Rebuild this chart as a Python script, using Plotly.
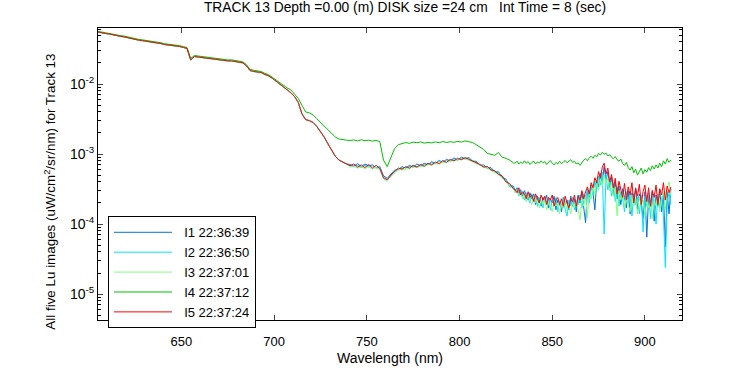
import plotly.graph_objects as go

# Wavelength grid (nm): 2-nm sampling up to 829, 1-nm sampling 830-914
wl_short = list(range(605, 740, 2))
wl_mid = list(range(741, 830, 2))
wl_long = list(range(830, 915))
wavelength = wl_short + wl_mid + wl_long

# Values in units of 1e-4 uW/cm^2/sr/nm
# 605-739 nm: I1, I2, I3, I5 coincide
lu_shared_short = [553, 536, 527, 519, 503, 487, 480, 472, 457, 443,
                   429, 423, 416, 409, 403, 390, 384, 378, 366, 361,
                   355, 349, 344, 333, 323, 221, 247, 243, 239, 235,
                   228, 224, 221, 221, 217, 214, 214, 211, 207, 201,
                   183, 156, 151, 149, 146, 137, 131, 121, 110, 98,
                   90.9, 82.7, 75.2, 66.2, 54.8, 37.5, 31.0, 30.0, 28.2, 24.8,
                   21.2, 17.5, 14.0, 11.2, 9.30, 8.19, 7.69, 7.22]
i4_short = [565, 550, 540, 532, 516, 500, 492, 484, 469, 455,
            441, 434, 427, 420, 414, 401, 394, 388, 376, 371,
            365, 359, 353, 342, 332, 232, 256, 251, 247, 243,
            236, 232, 229, 228, 225, 221, 221, 218, 214, 208,
            190, 162, 157, 154, 151, 142, 136, 125, 114, 107,
            97, 88, 82.7, 72.8, 62.2, 49.8, 39.9, 38.7, 36.2, 32.0,
            28.2, 24.8, 21.9, 19.3, 17.5, 16.4, 15.9, 15.8]

# 741-829 nm
i1_mid = [7.1, 6.7, 7.3, 6.6, 7.2, 6.8, 7.0, 6.4, 6.6, 4.9,
          4.5, 5.2, 5.9, 6.0, 6.6, 6.3, 6.9, 6.5, 7.2, 6.8,
          7.4, 7.0, 7.8, 7.3, 8.1, 7.6, 8.4, 8.0, 8.8, 8.2,
          9.0, 8.6, 8.9, 7.9, 7.9, 6.9, 7.0, 6.3, 6.4, 5.5,
          5.6, 4.6, 4.4, 3.5, 3.5]
i2_mid = [6.9, 6.6, 6.9, 6.4, 6.9, 6.5, 6.8, 6.3, 6.4, 4.4,
          4.2, 4.9, 5.8, 6.1, 6.3, 6.5, 6.6, 6.8, 6.6, 7.0,
          7.1, 7.1, 7.5, 7.3, 7.9, 7.7, 8.1, 8.1, 8.5, 8.3,
          8.7, 8.5, 8.7, 8.1, 7.6, 7.2, 6.6, 6.3, 6.1, 5.6,
          5.4, 4.5, 4.3, 3.4, 3.4]
i3_mid = [6.5, 6.7, 6.3, 6.6, 6.2, 6.6, 6.1, 6.4, 6.0, 4.5,
          4.2, 4.8, 5.4, 5.9, 6.0, 6.2, 6.2, 6.5, 6.4, 6.7,
          6.6, 7.0, 7.0, 7.3, 7.2, 7.6, 7.6, 7.9, 8.0, 8.2,
          8.2, 8.5, 8.2, 7.8, 7.3, 6.9, 6.4, 6.3, 5.8, 5.5,
          5.1, 4.6, 4.0, 3.5, 3.2]
i4_mid = [15.6, 15.9, 15.4, 16.0, 15.5, 15.8, 15.3, 15.7, 15.0, 8.2,
          6.6, 9.0, 12.0, 13.6, 14.0, 14.6, 14.2, 14.8, 14.5, 14.9,
          14.3, 14.7, 14.4, 14.9, 14.5, 15.1, 14.6, 15.0, 14.7, 15.2,
          14.8, 15.4, 15.0, 14.6, 13.6, 12.4, 11.6, 10.2, 9.9, 9.6,
          10.5, 9.0, 8.7, 8.2, 7.5]
i5_mid = [6.8, 7.2, 6.5, 7.0, 6.4, 7.1, 6.3, 6.9, 6.2, 4.6,
          4.3, 5.0, 5.6, 6.3, 6.1, 6.6, 6.3, 6.9, 6.5, 7.1,
          6.7, 7.4, 7.0, 7.7, 7.3, 8.1, 7.6, 8.4, 8.0, 8.7,
          8.3, 8.9, 8.4, 8.0, 7.5, 7.1, 6.5, 6.7, 5.9, 5.8,
          5.1, 4.9, 4.0, 3.8, 3.2]

# 830-914 nm
i1_long = [3.0, 3.3, 2.7, 3.1, 2.5, 3.0, 2.6, 2.2, 2.8, 2.3,
           2.7, 1.9, 2.5, 2.2, 1.8, 2.4, 2.1, 2.6, 1.7, 2.3,
           2.0, 2.5, 1.6, 2.2, 2.0, 1.5, 2.4, 1.9, 2.2, 1.6,
           2.5, 1.8, 2.3, 1.5, 2.6, 2.0, 2.8, 1.6, 1.05, 3.1,
           2.4, 3.6, 2.8, 1.6, 4.2, 3.4, 5.3, 4.0, 6.6, 4.3,
           5.6, 3.2, 4.7, 2.6, 4.0, 2.3, 3.5, 1.9, 3.2, 2.4,
           1.7, 3.0, 1.4, 2.8, 2.2, 3.3, 1.6, 2.7, 2.0, 1.2,
           2.9, 0.65, 2.5, 1.9, 3.0, 1.1, 2.6, 1.8, 3.1, 1.5,
           2.8, 0.47, 2.9, 1.4, 3.2]
i2_long = [2.9, 3.2, 2.5, 3.0, 2.7, 2.2, 2.8, 2.4, 2.0, 2.7,
           2.2, 2.5, 1.8, 2.4, 2.1, 1.7, 2.4, 2.0, 2.3, 1.6,
           2.2, 1.9, 2.4, 1.5, 2.1, 1.9, 2.3, 1.6, 1.3, 2.2,
           1.8, 2.4, 1.6, 2.2, 1.9, 2.6, 1.7, 2.7, 2.2, 3.2,
           2.0, 3.5, 2.6, 4.1, 3.0, 4.8, 3.6, 5.5, 0.72, 4.9,
           3.1, 4.4, 2.5, 3.8, 2.1, 3.4, 1.8, 2.9, 2.3, 1.5,
           2.9, 2.0, 2.6, 1.3, 2.7, 1.9, 2.4, 1.4, 2.6, 0.77,
           2.5, 1.8, 2.8, 1.2, 2.6, 2.0, 1.0, 2.7, 1.7, 2.4,
           1.3, 0.24, 2.1, 2.8, 1.9]
i3_long = [2.8, 3.1, 2.6, 2.8, 2.3, 2.7, 2.1, 2.6, 2.2, 1.9,
           2.5, 2.0, 2.3, 1.7, 2.2, 1.9, 2.2, 1.6, 2.1, 1.8,
           1.5, 2.1, 1.8, 2.0, 1.4, 2.0, 1.7, 2.1, 1.6, 1.9,
           1.4, 2.0, 1.7, 2.2, 1.5, 1.15, 2.3, 1.8, 2.6, 1.23,
           2.9, 2.3, 3.3, 2.7, 3.8, 3.1, 4.4, 3.5, 5.0, 3.8,
           4.6, 3.0, 4.0, 2.5, 3.4, 1.31, 3.0, 2.2, 2.7, 1.7,
           2.5, 2.0, 1.5, 2.6, 1.8, 2.3, 1.4, 2.5, 1.9, 2.2,
           1.3, 2.4, 1.7, 2.1, 1.2, 2.3, 1.8, 2.6, 1.5, 2.2,
           2.9, 1.6, 3.2, 4.0, 2.5]
i4_long = [7.4, 7.9, 7.2, 7.7, 7.3, 8.0, 7.4, 7.8, 7.1, 7.6,
           7.9, 7.2, 7.7, 7.4, 8.0, 7.5, 7.8, 7.1, 7.6, 8.1,
           7.4, 7.0, 7.6, 7.2, 7.9, 7.3, 7.7, 8.1, 7.5, 7.8,
           8.3, 7.6, 7.9, 7.2, 7.5, 6.9, 7.7, 8.2, 8.6, 8.0,
           8.9, 9.3, 8.7, 9.6, 9.1, 10.2, 9.7, 10.6, 9.9, 10.3,
           9.4, 9.8, 9.0, 8.6, 9.2, 8.3, 7.9, 8.5, 7.3, 6.9,
           7.6, 6.4, 5.9, 6.6, 5.4, 6.1, 5.0, 5.7, 6.3, 5.2,
           6.0, 5.5, 6.4, 5.8, 6.8, 6.1, 7.0, 6.3, 7.4, 6.6,
           8.0, 7.2, 8.6, 7.6, 8.2]
i5_long = [3.1, 2.8, 3.3, 2.6, 2.9, 2.7, 2.3, 2.9, 2.4, 2.6,
           2.1, 2.7, 2.3, 2.0, 2.6, 2.2, 2.5, 1.9, 2.4, 2.2,
           2.6, 1.8, 2.2, 2.4, 1.9, 2.3, 1.8, 2.5, 2.0, 1.7,
           2.3, 2.1, 2.6, 1.8, 2.5, 2.2, 3.0, 2.3, 2.9, 3.4,
           2.7, 3.9, 3.3, 4.6, 3.9, 5.6, 4.5, 6.5, 7.4, 5.2,
           6.3, 4.0, 5.1, 3.3, 4.5, 2.7, 4.1, 3.0, 2.4, 3.8,
           2.2, 3.4, 2.6, 3.9, 2.0, 3.2, 2.5, 3.7, 1.9, 2.9,
           3.6, 2.1, 3.3, 1.8, 3.0, 2.4, 3.6, 1.9, 3.2, 2.6,
           3.9, 2.2, 3.5, 2.8, 3.4]

UNIT = 1e-4
series_names = ["I1 22:36:39", "I2 22:36:50", "I3 22:37:01", "I4 22:37:12", "I5 22:37:24"]
series_values = [
    lu_shared_short + i1_mid + i1_long,
    lu_shared_short + i2_mid + i2_long,
    lu_shared_short + i3_mid + i3_long,
    i4_short + i4_mid + i4_long,
    lu_shared_short + i5_mid + i5_long,
]
series_colors = ["#0070E0", "#00E5FF", "#80FF80", "#00C000", "#FF0000"]

ytick_vals = [1e-5, 1e-4, 1e-3, 1e-2]
ytick_text = ["10<sup>-5</sup>", "10<sup>-4</sup>", "10<sup>-3</sup>", "10<sup>-2</sup>"]
xtick_vals = [650, 700, 750, 800, 850, 900]

fig = go.Figure()
for name, vals, col in zip(series_names, series_values, series_colors):
    fig.add_trace(go.Scatter(x=wavelength, y=[v * UNIT for v in vals], mode="lines",
                             name="\u00a0\u00a0" + name, line=dict(color=col, width=1)))

minor_vals = [k * 10.0 ** e for e in range(-6, -1) for k in range(2, 10)]
FONT = "Liberation Sans"
fig.update_layout(
    width=750, height=375,
    margin=dict(l=98, r=68, t=28, b=44),
    paper_bgcolor="white", plot_bgcolor="white",
    font=dict(family=FONT, size=13, color="black"),
    title=dict(text="TRACK 13 Depth =0.00 (m) DISK size =24 cm   Int Time = 8 (sec)",
               x=0.54, xanchor="center", y=0.982, yanchor="middle",
               font=dict(family=FONT, size=13.8)),
    showlegend=True,
    legend=dict(x=0.017, y=0.355, xanchor="left", yanchor="top",
                bordercolor="black", borderwidth=1, bgcolor="white",
                font=dict(family=FONT, size=13), tracegroupgap=0, itemwidth=58),
    annotations=[dict(text="All five Lu images (uW/cm<sup>2</sup>/sr/nm) for Track 13",
                      xref="paper", yref="paper", x=-0.082, y=0.44,
                      xanchor="center", yanchor="middle", textangle=-90,
                      showarrow=False, font=dict(family=FONT, size=13.4))],
)
fig.update_xaxes(range=[605, 920], tickvals=xtick_vals, ticks="inside", ticklen=5,
                 showline=True, linecolor="black", linewidth=1, mirror="ticks",
                 showgrid=False, zeroline=False, tickfont=dict(size=13),
                 ticklabelstandoff=9,
                 title=dict(text="Wavelength (nm)", standoff=5, font=dict(size=14)))
fig.update_yaxes(type="log", range=[-5.37, -1.20], tickvals=ytick_vals, ticktext=ytick_text,
                 ticks="inside", ticklen=5, showline=True, linecolor="black", linewidth=1,
                 mirror="ticks", showgrid=False, zeroline=False,
                 minor=dict(tickvals=minor_vals, ticks="inside", ticklen=3, tickcolor="black", showgrid=False),
                 tickfont=dict(size=14))

fig.write_html("out.html", config={"displayModeBar": False},
               post_script="document.body.style.margin='0';")
